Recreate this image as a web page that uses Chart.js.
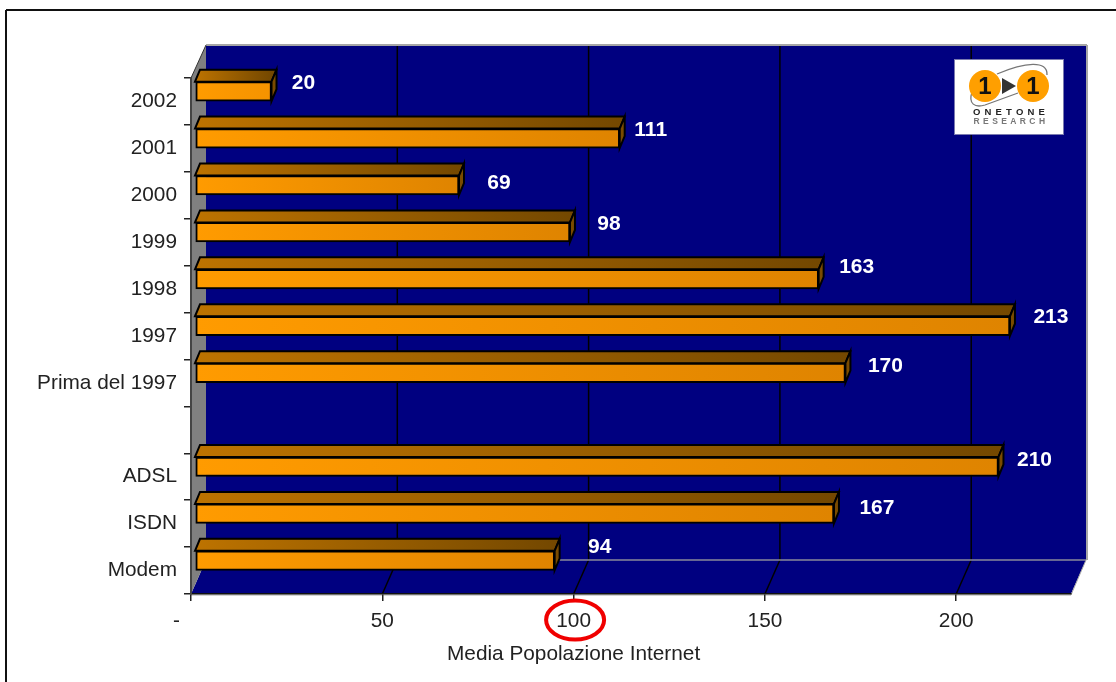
<!DOCTYPE html>
<html lang="it">
<head>
<meta charset="utf-8">
<title>Media Popolazione Internet</title>
<script src="https://cdn.jsdelivr.net/npm/chart.js@4"></script>
<style>
  html, body { margin: 0; padding: 0; background: #fff; }
  canvas { display: block; }
</style>
</head>
<body>
<canvas id="chart" width="1116" height="682"></canvas>
<script>
// Connection type and year of first access, against the index of the Internet population
const categories = ['2002', '2001', '2000', '1999', '1998', '1997', 'Prima del 1997', '', 'ADSL', 'ISDN', 'Modem'];
const indexValues = [20, 111, 69, 98, 163, 213, 170, null, 210, 167, 94];
const xTicks = [0, 50, 100, 150, 200];
const axisTitle = 'Media Popolazione Internet';
const highlightedTick = 100;

// Hand-placed value labels: horizontal and vertical nudge from the end of each bar
const labelNudgeX = [32, 31, 40, 39, 38, 41, 40, null, 36, 43, 45];
const labelNudgeY = [3, 3, 9, 3, -1, 2, 4, null, 4, 6, -2];

// Oblique projection of the chart box and of the bars inside it
const WALL_DX = 15, WALL_DY = 34;
const BAR_SHIFT_X = 4, BAR_SHIFT_Y = -10;
const BAR_DX = 5, BAR_DY = 12;

const FONT = '"Liberation Sans", Arial, sans-serif';
const NAVY = '#000080';
const AXIS_FONT_SIZE = 20.8;

function poly(ctx, pts, fill, stroke, width) {
  ctx.beginPath();
  pts.forEach((p, i) => i ? ctx.lineTo(p[0], p[1]) : ctx.moveTo(p[0], p[1]));
  ctx.closePath();
  if (fill) { ctx.fillStyle = fill; ctx.fill(); }
  if (stroke) { ctx.strokeStyle = stroke; ctx.lineWidth = width || 1; ctx.stroke(); }
}

function line(ctx, x0, y0, x1, y1, color, width) {
  ctx.beginPath();
  ctx.moveTo(x0, y0);
  ctx.lineTo(x1, y1);
  ctx.strokeStyle = color;
  ctx.lineWidth = width;
  ctx.stroke();
}

// Page frame, back wall, side wall and floor of the box
const boxPlugin = {
  id: 'box',
  beforeDraw(chart) {
    const { ctx, chartArea: a, scales: { x } } = chart;
    ctx.save();
    ctx.fillStyle = '#fff';
    ctx.fillRect(0, 0, chart.width, chart.height);

    line(ctx, 6, 10, chart.width, 10, '#111', 2);
    line(ctx, 6, 10, 6, chart.height, '#111', 2);

    const bx = a.left + WALL_DX, bxr = a.right + WALL_DX;
    const by = a.bottom - WALL_DY, ty = 45;

    poly(ctx, [[bx, ty], [bxr, ty], [bxr, by], [bx, by]], NAVY);
    poly(ctx, [[a.left, a.bottom], [a.right, a.bottom], [bxr, by], [bx, by]], NAVY);
    poly(ctx, [[a.left, a.top], [bx, ty], [bx, by], [a.left, a.bottom]], '#808080');

    xTicks.forEach(v => {
      if (v === 0) return;
      const px = x.getPixelForValue(v);
      line(ctx, px + WALL_DX, ty, px + WALL_DX, by, '#000', 1.5);
      line(ctx, px, a.bottom, px + WALL_DX, by, '#000', 1.5);
    });

    line(ctx, bx, by, bxr, by, '#8a8a9a', 1.5);
    line(ctx, bx, ty, bxr + 1, ty, '#a6a6a6', 2);
    line(ctx, bxr + 1, ty, bxr + 1, by, '#a6a6a6', 2);
    line(ctx, a.left, a.top, bx, ty, '#333', 1);
    line(ctx, a.right, a.bottom + 1, bxr, by, '#a6a6a6', 1);
    line(ctx, a.left, a.bottom + 1, a.right, a.bottom + 1, '#a6a6a6', 1);
    ctx.restore();
  }
};

// Top and end faces behind each bar; the front face is the bar element, shifted into the box
const bar3dPlugin = {
  id: 'bar3d',
  beforeDatasetDraw(chart, args) {
    const { ctx, scales: { x } } = chart;
    const meta = args.meta;
    ctx.save();
    ctx.translate(BAR_SHIFT_X, BAR_SHIFT_Y);
    meta.data.forEach((bar, i) => {
      if (indexValues[i] === null) return;
      const x0 = x.getPixelForValue(0);
      const x1 = bar.x;
      const top = bar.y - bar.height / 2, bottom = bar.y + bar.height / 2;
      const grad = ctx.createLinearGradient(x0, 0, x1, 0);
      grad.addColorStop(0, '#bd7300');
      grad.addColorStop(1, '#744800');
      poly(ctx, [[x0, top], [x0 + BAR_DX, top - BAR_DY], [x1 + BAR_DX, top - BAR_DY], [x1, top]], grad, '#000', 2);
      poly(ctx, [[x1, top], [x1 + BAR_DX, top - BAR_DY], [x1 + BAR_DX, bottom - BAR_DY], [x1, bottom]], '#7a4b00', '#000', 2);
    });
  },
  afterDatasetDraw(chart) {
    chart.ctx.restore();
  }
};

// White value labels over the back wall
const valueLabelPlugin = {
  id: 'valueLabels',
  afterDatasetsDraw(chart) {
    const { ctx } = chart;
    const meta = chart.getDatasetMeta(0);
    ctx.save();
    ctx.font = 'bold 21px ' + FONT;
    ctx.fillStyle = '#fff';
    ctx.textAlign = 'center';
    ctx.textBaseline = 'middle';
    meta.data.forEach((bar, i) => {
      if (indexValues[i] === null) return;
      ctx.fillText(String(indexValues[i]),
        bar.x + BAR_SHIFT_X + labelNudgeX[i],
        bar.y + BAR_SHIFT_Y - BAR_DY / 2 + labelNudgeY[i] - 5);
    });
    ctx.restore();
  }
};

// Axis title, red ring round one tick, and the research-house badge
const overlayPlugin = {
  id: 'overlay',
  afterDraw(chart) {
    const { ctx, chartArea: a, scales: { x } } = chart;
    ctx.save();

    ctx.font = AXIS_FONT_SIZE + 'px ' + FONT;
    ctx.fillStyle = '#222';
    ctx.textAlign = 'center';
    ctx.textBaseline = 'middle';
    ctx.fillText(axisTitle, x.getPixelForValue(highlightedTick), 654);

    ctx.beginPath();
    ctx.ellipse(x.getPixelForValue(highlightedTick) + 1.5, a.bottom + 26, 29, 19.5, 0, 0, Math.PI * 2);
    ctx.strokeStyle = '#f00000';
    ctx.lineWidth = 4;
    ctx.stroke();

    // Badge
    ctx.fillStyle = '#fff';
    ctx.fillRect(955, 60, 108, 74);
    ctx.strokeStyle = '#7a7ab0';
    ctx.lineWidth = 1;
    ctx.strokeRect(954.5, 59.5, 109, 75);

    ctx.beginPath();
    ctx.moveTo(997, 74);
    ctx.bezierCurveTo(1025, 62, 1048, 60, 1047, 75);
    ctx.moveTo(972, 92);
    ctx.bezierCurveTo(968, 104, 975, 108, 985, 105);
    ctx.lineTo(1018, 93);
    ctx.strokeStyle = '#777';
    ctx.lineWidth = 1.3;
    ctx.stroke();

    [985, 1033].forEach(cx => {
      ctx.beginPath();
      ctx.arc(cx, 86, 16, 0, Math.PI * 2);
      ctx.fillStyle = '#ff9f00';
      ctx.fill();
      ctx.fillStyle = '#111';
      ctx.font = 'bold 24px ' + FONT;
      ctx.fillText('1', cx, 87);
    });
    poly(ctx, [[1002, 78], [1016, 86], [1002, 94]], '#333');

    ctx.textBaseline = 'middle';
    ctx.font = 'bold 9.5px ' + FONT;
    ctx.letterSpacing = '4.2px';
    ctx.fillStyle = '#222';
    ctx.fillText('ONETONE', 1011, 112);
    ctx.font = 'bold 8.5px ' + FONT;
    ctx.letterSpacing = '3.4px';
    ctx.fillStyle = '#777';
    ctx.fillText('RESEARCH', 1011, 122);
    ctx.letterSpacing = '0px';

    ctx.restore();
  }
};

const canvas = document.getElementById('chart');
const faceCtx = canvas.getContext('2d');

new Chart(canvas, {
  type: 'bar',
  data: {
    labels: categories,
    datasets: [{
      data: indexValues,
      barThickness: 19.5,
      borderColor: '#000',
      borderWidth: 2,
      borderSkipped: false,
      backgroundColor(c) {
        const x = c.chart.scales.x;
        const v = indexValues[c.dataIndex];
        if (!x || v === null || v === undefined) return '#ff9900';
        const x0 = x.getPixelForValue(0), x1 = x.getPixelForValue(v);
        if (!Number.isFinite(x0) || !Number.isFinite(x1)) return '#ff9900';
        const g = faceCtx.createLinearGradient(x0, 0, x1, 0);
        g.addColorStop(0, '#ff9b00');
        g.addColorStop(1, v < 40 ? '#f59300' : '#df8400');
        return g;
      }
    }]
  },
  options: {
    indexAxis: 'y',
    responsive: false,
    animation: false,
    layout: { padding: { left: 0, right: 45, top: 78, bottom: 0 } },
    plugins: { legend: { display: false }, tooltip: { enabled: false } },
    scales: {
      x: {
        type: 'linear',
        min: 0,
        max: 230,
        afterFit(s) { s.height = 88; },
        afterBuildTicks(s) { s.ticks = xTicks.map(value => ({ value })); },
        border: { color: '#111', width: 1.5 },
        grid: { drawOnChartArea: false, color: '#222', tickLength: 7, lineWidth: 1.5 },
        ticks: {
          color: '#222',
          font: { family: FONT, size: AXIS_FONT_SIZE },
          padding: 8,
          maxRotation: 0,
          // Zero is printed as a dash, set left of the axis origin
          callback: v => (v === 0 ? '-     ' : String(v))
        }
      },
      y: {
        type: 'category',
        afterFit(s) { s.width = 191; },
        offset: true,
        border: { color: '#444', width: 2 },
        grid: { offset: true, drawOnChartArea: false, color: '#222', tickLength: 7, lineWidth: 1.5 },
        ticks: {
          color: '#222',
          font: { family: FONT, size: AXIS_FONT_SIZE },
          padding: 7,
          autoSkip: false
        }
      }
    }
  },
  plugins: [boxPlugin, bar3dPlugin, valueLabelPlugin, overlayPlugin]
});
</script>
</body>
</html>
